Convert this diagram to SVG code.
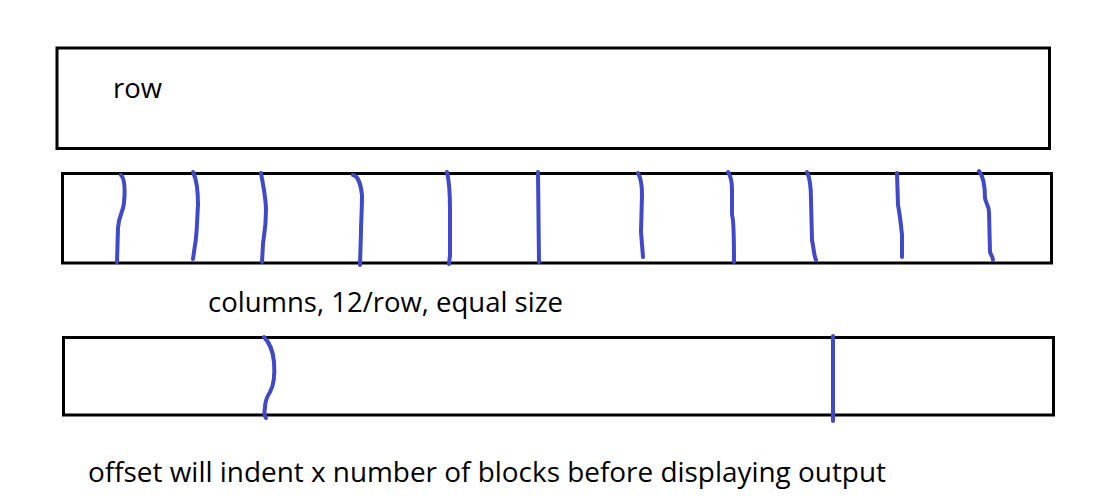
<svg xmlns="http://www.w3.org/2000/svg" width="1096" height="502" viewBox="0 0 1096 502">
<style>
.box{fill:none;stroke:#000;stroke-width:3}
.pen{fill:none;stroke:#4049CC;stroke-width:4;stroke-linecap:round;stroke-linejoin:round}
.lbl{font-family:"Open Sans","Noto Sans",sans-serif;font-size:27px;fill:#000}
</style>
<rect width="1096" height="502" fill="#fff"/>
<g id="row">
<rect class="box" x="57" y="48" width="992.5" height="100.5"/>
<text class="lbl" x="113" y="98" textLength="49" lengthAdjust="spacingAndGlyphs">row</text>
</g>
<g id="columns">
<rect class="box" x="62.5" y="173.5" width="989" height="89.5"/>
<text class="lbl" x="208" y="311.5" textLength="355" lengthAdjust="spacingAndGlyphs">columns, 12/row, equal size</text>
</g>
<g id="offset">
<rect class="box" x="63.5" y="337.5" width="990" height="77.5"/>
<text class="lbl" x="88" y="481.5" textLength="798" lengthAdjust="spacingAndGlyphs">offset will indent x number of blocks before displaying output</text>
</g>
<g id="connectors">
<path class="pen" d="M121,175 C125,179 125,192 124,203 C123,213 119,214 118,228 L117,262"/>
<path class="pen" d="M193,172 C197,180 198,192 198,205 C197,220 197,235 195,245 L193,259"/>
<path class="pen" d="M261,173 C263,185 266,198 266,210 C266,230 263,240 263,244 L262,262"/>
<path class="pen" d="M353,175 C358,176 361,185 362,195 C362,210 361,222 361,232 L360,265"/>
<path class="pen" d="M447,172 C449,180 450,195 450,210 L450,255 L449,264"/>
<path class="pen" d="M538,172 L539,262"/>
<path class="pen" d="M638,173 C641,178 642,185 642,195 L641,232 L643,257"/>
<path class="pen" d="M728,172 C731,176 732,182 732,190 L732,215 C734,220 734,240 734,262"/>
<path class="pen" d="M807,172 C810,178 811,190 811,200 L812,240 C814,250 814,256 816,260"/>
<path class="pen" d="M897,173 L898,205 C900,215 901,225 902,235 L902,257"/>
<path class="pen" d="M979,171 C983,176 985,185 985,198 C986,204 989,206 989,212 L990,252 C991,255 993,257 993,260"/>
<path class="pen" d="M264,337 C268,341 273,350 274,362 C275,375 274,385 270,392 C266,398 265,402 265,408 C264,412 264,415 266,418"/>
<path class="pen" d="M833,336 L833,421"/>
</g>
</svg>
